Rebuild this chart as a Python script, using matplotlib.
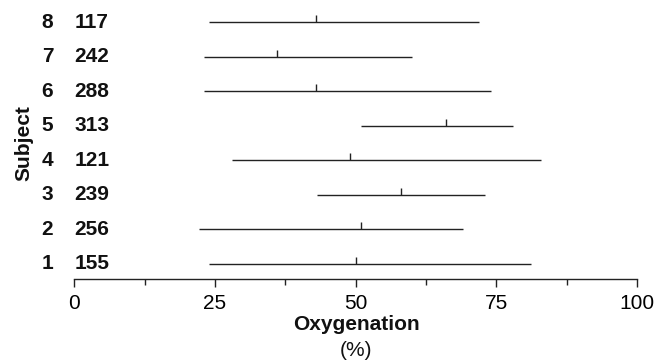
import matplotlib
matplotlib.use("Agg")
import matplotlib.pyplot as plt

plt.rcParams['font.family'] = ['Liberation Sans', 'DejaVu Sans']

subjects = [1, 2, 3, 4, 5, 6, 7, 8]
counts = [155, 256, 239, 121, 313, 288, 242, 117]
lows = [24.0, 22.1, 43.1, 28.0, 51.0, 23.0, 23.0, 24.0]
medians = [50.0, 51.0, 58.1, 49.0, 66.0, 43.0, 36.0, 43.0]
highs = [81.1, 69.0, 73.0, 83.0, 78.0, 74.0, 60.0, 72.0]
xticks_major = [0, 25, 50, 75, 100]
xticks_minor = [12.5, 37.5, 62.5, 87.5]

W, H = 669, 362
fig = plt.figure(figsize=(W / 100, H / 100), dpi=100)
ax = fig.add_axes([74.3 / W, 1 - 278.7 / H, (637 - 74.3) / W, (278.7 - 4.75) / H])

lc = '#222222'
for s, lo, md, hi in zip(subjects, lows, medians, highs):
    ax.plot([lo, hi], [s, s], color=lc, lw=1.0, solid_capstyle='butt')
    ax.plot([md, md], [s, s + 0.2], color=lc, lw=1.0, solid_capstyle='butt')

ax.set_xlim(0, 100)
ax.set_ylim(0.565, 8.5)
for sp in ['left', 'top', 'right']:
    ax.spines[sp].set_visible(False)
ax.spines['bottom'].set_color(lc)
ax.spines['bottom'].set_linewidth(1.0)
ax.spines['bottom'].set_bounds(0, 100)

ax.set_xticks(xticks_major)
ax.set_xticklabels([str(t) for t in xticks_major])
ax.set_xticks(xticks_minor, minor=True)
ax.tick_params(axis='x', which='major', length=5.8, width=1.0, color=lc, pad=5, labelsize=15)
ax.tick_params(axis='x', which='minor', length=4.3, width=1.0, color=lc)
ax.set_yticks([])

for s, c in zip(subjects, counts):
    ax.text(-5.8, s, str(s), ha='left', va='center', fontsize=15, fontweight='bold', clip_on=False, color='#111111')
    ax.text(0, s, str(c), ha='left', va='center', fontsize=15, fontweight='bold', clip_on=False, color='#111111')

fig.text(24 / W, 1 - 143 / H, 'Subject', rotation=90, ha='center', va='center', fontsize=15, fontweight='bold', color='#111111')
fig.text(356 / W, 1 - 325 / H, 'Oxygenation', ha='center', va='center', fontsize=15, fontweight='bold', color='#111111')
fig.text(356 / W, 1 - 350 / H, '(%)', ha='center', va='center', fontsize=15, color='#111111')

fig.savefig('out.png', dpi=100)
